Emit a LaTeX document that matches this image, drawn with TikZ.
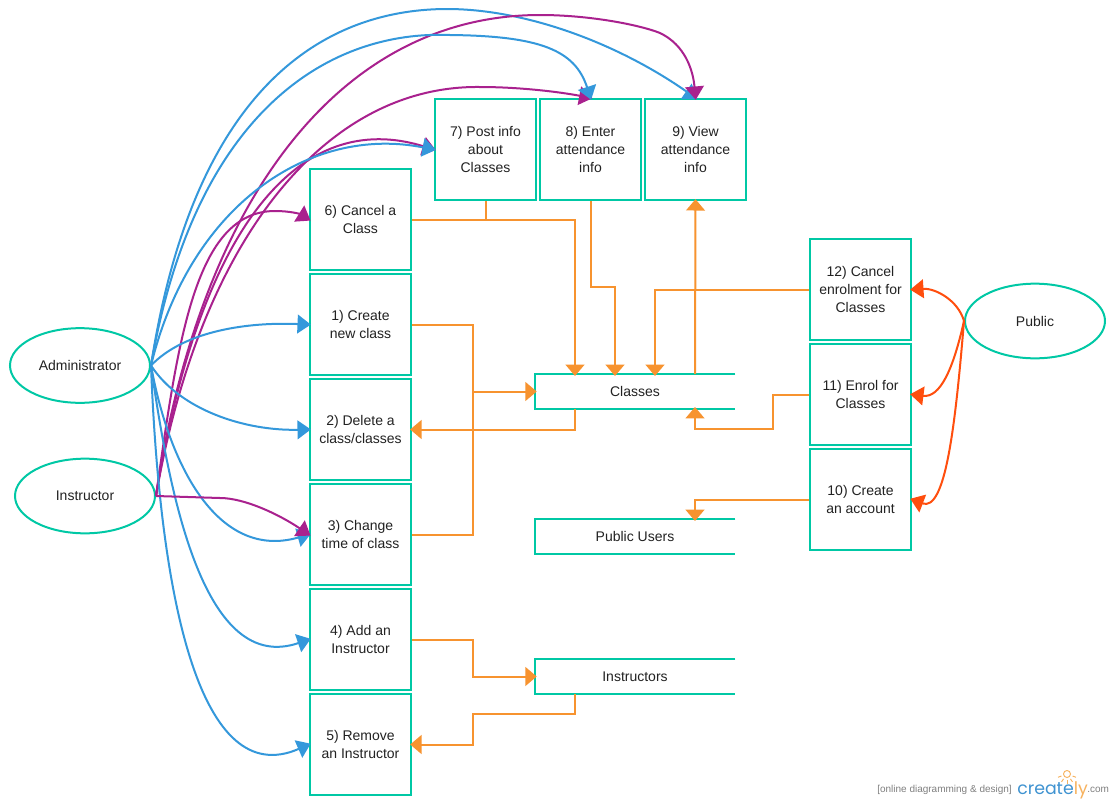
\documentclass[tikz,border=0pt]{standalone}
\usepackage{fontspec}
\setmainfont{Liberation Sans}
\newfontfamily\logofont{Poppins}
\usetikzlibrary{arrows.meta,shapes.geometric}
\definecolor{tealc}{HTML}{00C8A5}
\definecolor{bluec}{HTML}{3498DB}
\definecolor{magc}{HTML}{A9218E}
\definecolor{orac}{HTML}{F7932F}
\definecolor{redc}{HTML}{FF4E0E}
\definecolor{txtc}{HTML}{222222}
\definecolor{logoblue}{HTML}{3F93D1}
\definecolor{logoora}{HTML}{F7B25E}
\tikzset{
  lbl/.style={font=\fontsize{10.5}{13.5}\selectfont,text=txtc,align=center},
  procbox/.style={lbl,draw=tealc,line width=1.5pt,minimum width=76pt,minimum height=76pt,inner sep=0pt},
  actor/.style={lbl,ellipse,draw=tealc,line width=1.5pt,minimum width=105pt,minimum height=56pt,inner sep=0pt},
  storebox/.style={lbl,minimum width=150pt,minimum height=26pt,inner sep=0pt},
  storeline/.style={draw=tealc,line width=1.5pt},
  curve/.style={line width=1.5pt,shorten >=-1.5pt,-{Triangle[length=10pt,width=14pt]}},
  bluearc/.style={curve,draw=bluec,bluec},
  magarc/.style={curve,draw=magc,magc},
  redarc/.style={curve,draw=redc,redc},
  flow/.style={line width=1.5pt,draw=orac,orac,shorten >=-1.5pt,-{Triangle[length=8.5pt,width=14pt]}},
  flowplain/.style={line width=1.5pt,draw=orac},
  logogray/.style={font=\fontsize{7.5}{8}\selectfont,text=black!50,inner sep=0pt,anchor=base west},
  ray/.style={draw=logoora,line width=0.7pt}
}
\begin{document}
\begin{tikzpicture}[x=0.75pt,y=-0.75pt]
\fill[white] (0,0) rectangle (1115,804);
\useasboundingbox (0,0) rectangle (1115,804);

% actors
\node[actor] (admin) at (80,365.5) {Administrator};
\node[actor] (instr) at (85,496) {Instructor};
\node[actor] (public) at (1035,321) {Public};

% process boxes
\node[procbox] (p6) at (360.5,219.5) {6) Cancel a\\Class};
\node[procbox] (p1) at (360.5,324.5) {1) Create\\new class};
\node[procbox] (p2) at (360.5,429.5) {2) Delete a\\class/classes};
\node[procbox] (p3) at (360.5,534.5) {3) Change\\time of class};
\node[procbox] (p4) at (360.5,639.5) {4) Add an\\Instructor};
\node[procbox] (p5) at (360.5,744.5) {5) Remove\\an Instructor};
\node[procbox] (p7) at (485.5,149.5) {7) Post info\\about\\Classes};
\node[procbox] (p8) at (590.5,149.5) {8) Enter\\attendance\\info};
\node[procbox] (p9) at (695.5,149.5) {9) View\\attendance\\info};
\node[procbox] (p12) at (860.5,289.5) {12) Cancel\\enrolment for\\Classes};
\node[procbox] (p11) at (860.5,394.5) {11) Enrol for\\Classes};
\node[procbox] (p10) at (860.5,499.5) {10) Create\\an account};

% data stores
\node[storebox] (classes) at (635,391.5) {Classes};
\node[storebox] (pubusers) at (635,536.5) {Public Users};
\node[storebox] (instrs) at (635,676.5) {Instructors};
\foreach \s in {classes,pubusers,instrs}
  \draw[storeline] (\s.north east) -- (\s.north west) -- (\s.south west) -- (\s.south east);

% connector ends on the stores
\coordinate (ct1) at (575,374);
\coordinate (ct2) at (615,374);
\coordinate (ct3) at (655,374);
\coordinate (ct4) at (695,374);
\coordinate (cb1) at (575,409);
\coordinate (cb4) at (695,409);
\coordinate (ut4) at (695,519);
\coordinate (ib1) at (575,694);

% orange flows
\draw[flow] (p6.east) -| (ct1);
\draw[flowplain] (p7.south) -- (p7.south |- p6.east);
\draw[flow] (p8.south) -- (590.5,287) -| (ct2);
\draw[flow] (ct4) -- (p9.south);
\draw[flow] (p12.west) -| (ct3);
\draw[flow] (p11.west) -- (773,394.5) -- (773,429) -| (cb4);
\draw[flow] (p10.west) -| (ut4);
\draw[flow] (p1.east) -- (473,324.5) |- (classes.west);
\draw[flowplain] (p3.east) -- (473,534.5) -- (473,391.5);
\draw[flow] (cb1) |- (p2.east);
\draw[flow] (p4.east) -- (473,639.5) |- (instrs.west);
\draw[flow] (ib1) -- (575,714) -- (473,714) |- (p5.east);

% blue and magenta arcs
\draw[bluearc] (admin.east) .. controls (195,80) and (330,8) .. (450,9) .. controls (530,10) and (620,45) .. (p9.north);
\draw[magarc] (instr.east) .. controls (200,200) and (340,15) .. (540,15) .. controls (590,15) and (640,25) .. (660,33) .. controls (685,45) and (693,70) .. (p9.north);
\draw[magarc] (instr.east) .. controls (200,240) and (325,85) .. (480,87) .. controls (520,87) and (560,92) .. (p8.north);
\draw[bluearc] (admin.east) .. controls (195,110) and (330,30) .. (450,35) .. controls (540,36) and (575,50) .. (p8.north);
\draw[magarc] (instr.east) .. controls (200,225) and (300,108) .. (p7.west);
\draw[bluearc] (admin.east) .. controls (190,205) and (310,125) .. (p7.west);
\draw[magarc] (instr.east) .. controls (178,340) and (195,211) .. (275,211) .. controls (290,211) and (300,214) .. (p6.west);
\draw[bluearc] (admin.east) .. controls (185,330) and (250,322) .. (p1.west);
\draw[bluearc] (admin.east) .. controls (180,410) and (245,431) .. (p2.west);
\draw[bluearc] (admin.east) .. controls (170,470) and (220,560) .. (p3.west);
\draw[bluearc] (admin.east) .. controls (170,500) and (205,675) .. (p4.west);
\draw[bluearc] (admin.east) .. controls (160,600) and (200,792) .. (p5.west);
\draw[magarc] (instr.east) -- (220,498) .. controls (245,498) and (280,515) .. (p3.west);

% red arcs
\draw[redarc] (public.west) .. controls (958,300) and (935,288) .. (p12.east);
\draw[redarc] (public.west) .. controls (953,370) and (940,398) .. (p11.east);
\draw[redarc] (public.west) .. controls (955,430) and (945,512) .. (p10.east);

% logo
\node[logogray] (tagline) at (877,792) {[online diagramming \& design]};
\node[inner sep=0pt,anchor=base west,font=\logofont\fontsize{13}{14}\selectfont] (logoword) at (1017,794) {\textcolor{logoblue}{create}\textcolor{logoora}{ly}};
\node[logogray] (logocom) at (1087,792) {.com};
\draw[logoora,line width=0.7pt] (1067,774) circle (3.5);
\foreach \a in {20,55,90,125,160}
  \draw[ray] (1067,774) ++(\a:6) -- ++(\a:3.5);
\end{tikzpicture}
\end{document}
